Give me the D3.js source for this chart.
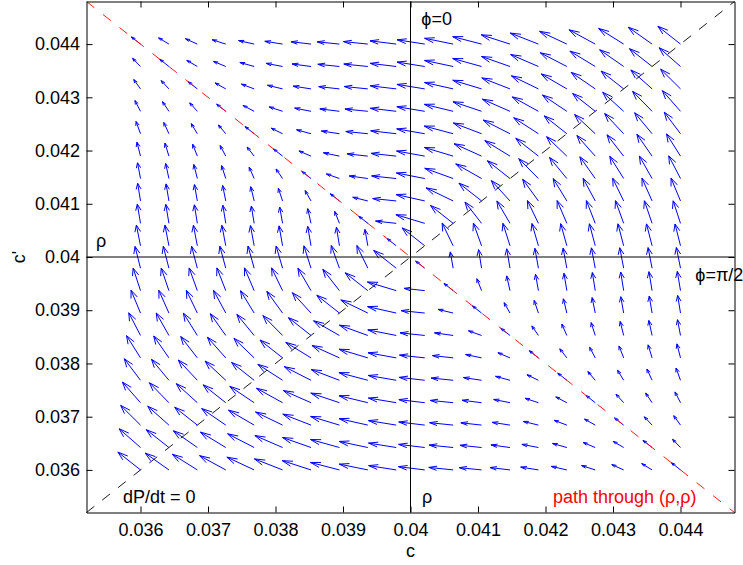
<!DOCTYPE html>
<html>
<head>
<meta charset="utf-8">
<script src="https://cdn.jsdelivr.net/npm/d3@7"></script>
<style>
  body { margin: 0; background: #fff; }
  text { font-family: "Liberation Sans", Arial, sans-serif; }
</style>
</head>
<body>
<div id="wrapper"></div>
<script>
// grid of the quiver (c across, c' from top row to bottom row)
const cValues = [0.036, 0.036421, 0.036842, 0.037263, 0.037684, 0.038105, 0.038526, 0.038947, 0.039368, 0.039789,
  0.040211, 0.040632, 0.041053, 0.041474, 0.041895, 0.042316, 0.042737, 0.043158, 0.043579, 0.044]
const cPrimeValues = [0.044, 0.043579, 0.043158, 0.042737, 0.042316, 0.041895, 0.041474, 0.041053, 0.040632, 0.040211,
  0.039789, 0.039368, 0.038947, 0.038526, 0.038105, 0.037684, 0.037263, 0.036842, 0.036421, 0.036]

// arrow components, in units of 0.001 (one row per c' value, top to bottom)
const uRows = [
  [-.135,-.154,-.176,-.202,-.230,-.263,-.296,-.330,-.361,-.389,-.409,-.423,-.428,-.426,-.417,-.404,-.388,-.370,-.352,-.335],
  [-.118,-.135,-.156,-.181,-.212,-.245,-.282,-.320,-.356,-.387,-.411,-.424,-.428,-.422,-.411,-.394,-.375,-.355,-.335,-.316],
  [-.100,-.115,-.135,-.159,-.189,-.224,-.264,-.307,-.349,-.385,-.412,-.425,-.427,-.418,-.401,-.380,-.357,-.335,-.314,-.294],
  [-.082,-.095,-.113,-.135,-.164,-.199,-.242,-.290,-.339,-.383,-.413,-.427,-.424,-.409,-.387,-.361,-.335,-.311,-.289,-.268],
  [-.066,-.076,-.090,-.109,-.135,-.170,-.214,-.268,-.326,-.379,-.415,-.428,-.419,-.396,-.366,-.335,-.306,-.281,-.258,-.240],
  [-.053,-.059,-.069,-.083,-.104,-.135,-.179,-.237,-.307,-.374,-.418,-.427,-.407,-.373,-.335,-.300,-.271,-.246,-.225,-.207],
  [-.044,-.048,-.052,-.061,-.074,-.097,-.135,-.194,-.276,-.365,-.421,-.421,-.383,-.335,-.291,-.256,-.228,-.206,-.188,-.174],
  [-.042,-.042,-.043,-.046,-.051,-.063,-.087,-.135,-.224,-.349,-.425,-.401,-.335,-.276,-.233,-.202,-.180,-.163,-.150,-.140],
  [-.047,-.046,-.044,-.043,-.042,-.043,-.049,-.069,-.135,-.307,-.427,-.335,-.246,-.194,-.163,-.144,-.131,-.121,-.114,-.109],
  [-.061,-.059,-.058,-.057,-.055,-.052,-.049,-.044,-.043,-.135,-.335,-.163,-.121,-.105,-.096,-.091,-.087,-.085,-.083,-.081],
  [-.081,-.083,-.085,-.087,-.091,-.096,-.105,-.121,-.163,-.335,-.135,-.043,-.044,-.049,-.052,-.055,-.057,-.058,-.059,-.061],
  [-.109,-.114,-.121,-.131,-.144,-.163,-.194,-.246,-.335,-.427,-.307,-.135,-.069,-.049,-.043,-.042,-.043,-.044,-.046,-.047],
  [-.140,-.150,-.163,-.180,-.202,-.233,-.276,-.335,-.401,-.425,-.349,-.224,-.135,-.087,-.063,-.051,-.046,-.043,-.042,-.042],
  [-.174,-.188,-.206,-.228,-.256,-.291,-.335,-.383,-.421,-.421,-.365,-.276,-.194,-.135,-.097,-.074,-.061,-.052,-.048,-.044],
  [-.207,-.225,-.246,-.271,-.300,-.335,-.373,-.407,-.427,-.418,-.374,-.307,-.237,-.179,-.135,-.104,-.083,-.069,-.059,-.053],
  [-.240,-.258,-.281,-.306,-.335,-.366,-.396,-.419,-.428,-.415,-.379,-.326,-.268,-.214,-.170,-.135,-.109,-.090,-.076,-.066],
  [-.268,-.289,-.311,-.335,-.361,-.387,-.409,-.424,-.427,-.413,-.383,-.339,-.290,-.242,-.199,-.164,-.135,-.113,-.095,-.082],
  [-.294,-.314,-.335,-.357,-.380,-.401,-.418,-.427,-.425,-.412,-.385,-.349,-.307,-.264,-.224,-.189,-.159,-.135,-.115,-.100],
  [-.316,-.335,-.355,-.375,-.394,-.411,-.422,-.428,-.424,-.411,-.387,-.356,-.320,-.282,-.245,-.212,-.181,-.156,-.135,-.118],
  [-.335,-.352,-.370,-.388,-.404,-.417,-.426,-.428,-.423,-.409,-.389,-.361,-.330,-.296,-.263,-.230,-.202,-.176,-.154,-.135]
]
const vRows = [
  [.135,.118,.100,.082,.066,.053,.044,.042,.047,.061,.081,.109,.140,.174,.207,.240,.268,.294,.316,.335],
  [.154,.135,.115,.095,.076,.059,.048,.042,.046,.059,.083,.114,.150,.188,.225,.258,.289,.314,.335,.352],
  [.176,.156,.135,.113,.090,.069,.052,.043,.045,.058,.085,.121,.163,.206,.246,.281,.311,.335,.355,.370],
  [.202,.181,.159,.135,.109,.083,.061,.046,.043,.057,.087,.131,.180,.228,.271,.306,.335,.357,.375,.388],
  [.230,.212,.189,.164,.135,.104,.074,.051,.042,.055,.091,.144,.202,.256,.300,.335,.361,.380,.394,.404],
  [.263,.245,.224,.199,.170,.135,.097,.063,.043,.052,.096,.163,.233,.291,.335,.366,.387,.401,.411,.417],
  [.296,.282,.264,.242,.214,.179,.135,.087,.049,.049,.105,.193,.276,.335,.373,.396,.409,.418,.422,.426],
  [.330,.320,.307,.290,.268,.237,.194,.135,.069,.045,.121,.246,.335,.383,.407,.419,.424,.427,.428,.428],
  [.361,.356,.349,.340,.326,.307,.277,.224,.135,.043,.163,.335,.401,.421,.427,.428,.427,.426,.424,.423],
  [.389,.387,.385,.383,.379,.374,.365,.349,.307,.135,.335,.427,.426,.421,.418,.415,.413,.412,.411,.409],
  [.409,.411,.412,.413,.415,.418,.421,.426,.427,.335,.135,.307,.349,.365,.374,.379,.383,.385,.387,.389],
  [.423,.424,.426,.427,.428,.427,.421,.401,.335,.163,.043,.135,.224,.277,.307,.326,.340,.349,.356,.361],
  [.428,.428,.427,.424,.419,.407,.383,.335,.246,.121,.045,.069,.135,.194,.237,.268,.290,.307,.320,.330],
  [.426,.422,.418,.409,.396,.373,.335,.276,.193,.105,.049,.049,.087,.135,.179,.214,.242,.264,.282,.296],
  [.417,.411,.401,.387,.366,.335,.291,.233,.163,.096,.052,.043,.063,.097,.135,.170,.199,.224,.245,.263],
  [.404,.394,.380,.361,.335,.300,.256,.202,.144,.091,.055,.042,.051,.074,.104,.135,.164,.189,.212,.230],
  [.388,.375,.357,.335,.306,.271,.228,.180,.131,.087,.057,.043,.046,.061,.083,.109,.135,.159,.181,.202],
  [.370,.355,.335,.311,.281,.246,.206,.163,.121,.085,.058,.045,.043,.052,.069,.090,.113,.135,.156,.176],
  [.352,.335,.314,.289,.258,.225,.188,.150,.114,.083,.059,.046,.042,.048,.059,.076,.095,.115,.135,.154],
  [.335,.316,.294,.268,.240,.207,.174,.140,.109,.081,.061,.047,.042,.044,.053,.066,.082,.100,.118,.135]
]

// reference lines through the axes corners
const dPdtZeroC = [0.0352, 0.0448]
const dPdtZeroCPrime = [0.0352, 0.0448]
const pathC = [0.0352, 0.0448]
const pathCPrime = [0.0448, 0.0352]
const rho = 0.04

const ticks = [0.036, 0.037, 0.038, 0.039, 0.04, 0.041, 0.042, 0.043, 0.044]
const tickLabels = ["0.036", "0.037", "0.038", "0.039", "0.04", "0.041", "0.042", "0.043", "0.044"]

const annotations = [
  { text: "\u03d5=0", c: 0.04016, cPrime: 0.04436, color: "#000" },
  { text: "\u03c1", c: 0.03534, cPrime: 0.04018, color: "#000" },
  { text: "\u03d5=\u03c0/2", c: 0.04422, cPrime: 0.03954, color: "#000" },
  { text: "\u03c1", c: 0.04017, cPrime: 0.03538, color: "#000" },
  { text: "dP/dt = 0", c: 0.03574, cPrime: 0.03538, color: "#000" },
  { text: "path through (\u03c1,\u03c1)", c: 0.04211, cPrime: 0.03538, color: "#ff0000" }
]

function drawQuiver() {
  let dimensions = {
    width: 743,
    height: 565,
    margin: {
      top: 1.5,
      right: 8.5,
      bottom: 52.5,
      left: 86.5
    }
  }
  dimensions.boundedWidth = dimensions.width
    - dimensions.margin.left
    - dimensions.margin.right
  dimensions.boundedHeight = dimensions.height
    - dimensions.margin.top
    - dimensions.margin.bottom

  const wrapper = d3.select("#wrapper")
    .append("svg")
      .attr("width", dimensions.width)
      .attr("height", dimensions.height)

  const bounds = wrapper.append("g")
    .attr("transform", `translate(${dimensions.margin.left}, ${dimensions.margin.top})`)

  const xScale = d3.scaleLinear()
    .domain([0.0352, 0.0448])
    .range([0, dimensions.boundedWidth])

  const yScale = d3.scaleLinear()
    .domain([0.0352, 0.0448])
    .range([dimensions.boundedHeight, 0])

  // arrows (MATLAB quiver style heads)
  const alpha = 0.33
  const beta = 0.33
  const arrows = []
  cPrimeValues.forEach((cp, r) => {
    cValues.forEach((c, k) => {
      arrows.push({ c, cp, u: uRows[r][k] * 0.001, v: vRows[r][k] * 0.001 })
    })
  })

  const arrowPath = d => {
    const tx = d.c + d.u
    const ty = d.cp + d.v
    const h1x = tx - alpha * (d.u + beta * d.v)
    const h1y = ty - alpha * (d.v - beta * d.u)
    const h2x = tx - alpha * (d.u - beta * d.v)
    const h2y = ty - alpha * (d.v + beta * d.u)
    return `M${xScale(d.c)},${yScale(d.cp)}L${xScale(tx)},${yScale(ty)}`
      + `M${xScale(h1x)},${yScale(h1y)}L${xScale(tx)},${yScale(ty)}L${xScale(h2x)},${yScale(h2y)}`
  }

  bounds.append("g")
    .selectAll("path")
    .data(arrows)
    .enter().append("path")
      .attr("d", arrowPath)
      .attr("fill", "none")
      .attr("stroke", "#0000ff")
      .attr("stroke-width", 1)

  // rho lines
  bounds.append("line")
    .attr("x1", xScale(rho)).attr("x2", xScale(rho))
    .attr("y1", yScale(0.0352)).attr("y2", yScale(0.0448))
    .attr("stroke", "#000")
  bounds.append("line")
    .attr("x1", xScale(0.0352)).attr("x2", xScale(0.0448))
    .attr("y1", yScale(rho)).attr("y2", yScale(rho))
    .attr("stroke", "#000")

  const line = d3.line()
    .x(d => xScale(d[0]))
    .y(d => yScale(d[1]))

  bounds.append("path")
    .attr("d", line(d3.zip(dPdtZeroC, dPdtZeroCPrime)))
    .attr("fill", "none")
    .attr("stroke", "#000")
    .attr("stroke-width", 0.9)
    .attr("stroke-dasharray", "10,10")

  bounds.append("path")
    .attr("d", line(d3.zip(pathC, pathCPrime)))
    .attr("fill", "none")
    .attr("stroke", "#ff0000")
    .attr("stroke-width", 0.9)
    .attr("stroke-dasharray", "10,11")

  // axes box with inward ticks
  const styleAxis = g => {
    g.selectAll(".domain").attr("stroke", "#000")
    g.selectAll(".tick line").attr("stroke", "#000")
    g.selectAll("text")
      .attr("fill", "#000")
      .style("font-size", "18px")
      .style("font-family", "'Liberation Sans', Arial, sans-serif")
  }

  bounds.append("g")
    .attr("transform", `translate(0, ${dimensions.boundedHeight})`)
    .call(d3.axisBottom(xScale).tickValues(ticks).tickFormat((d, i) => tickLabels[i])
      .tickSizeInner(-6).tickSizeOuter(0).tickPadding(11))
    .call(styleAxis)

  bounds.append("g")
    .call(d3.axisTop(xScale).tickValues(ticks).tickFormat("")
      .tickSizeInner(-6).tickSizeOuter(0))
    .call(styleAxis)

  bounds.append("g")
    .call(d3.axisLeft(yScale).tickValues(ticks).tickFormat((d, i) => tickLabels[i])
      .tickSizeInner(-6).tickSizeOuter(0).tickPadding(6.5))
    .call(styleAxis)

  bounds.append("g")
    .attr("transform", `translate(${dimensions.boundedWidth}, 0)`)
    .call(d3.axisRight(yScale).tickValues(ticks).tickFormat("")
      .tickSizeInner(-6).tickSizeOuter(0))
    .call(styleAxis)

  // annotations
  bounds.selectAll(".annotation")
    .data(annotations)
    .enter().append("text")
      .attr("class", "annotation")
      .attr("x", d => xScale(d.c))
      .attr("y", d => yScale(d.cPrime))
      .attr("fill", d => d.color)
      .style("font-size", "18px")
      .text(d => d.text)

  // axis labels
  wrapper.append("text")
    .attr("x", dimensions.margin.left + xScale(rho))
    .attr("y", 556.5)
    .attr("text-anchor", "middle")
    .style("font-size", "18px")
    .text("c")

  wrapper.append("text")
    .attr("transform", `translate(25, ${dimensions.margin.top + yScale(rho)}) rotate(-90)`)
    .attr("text-anchor", "middle")
    .style("font-size", "18px")
    .text("c'")
}

drawQuiver()
</script>
</body>
</html>
